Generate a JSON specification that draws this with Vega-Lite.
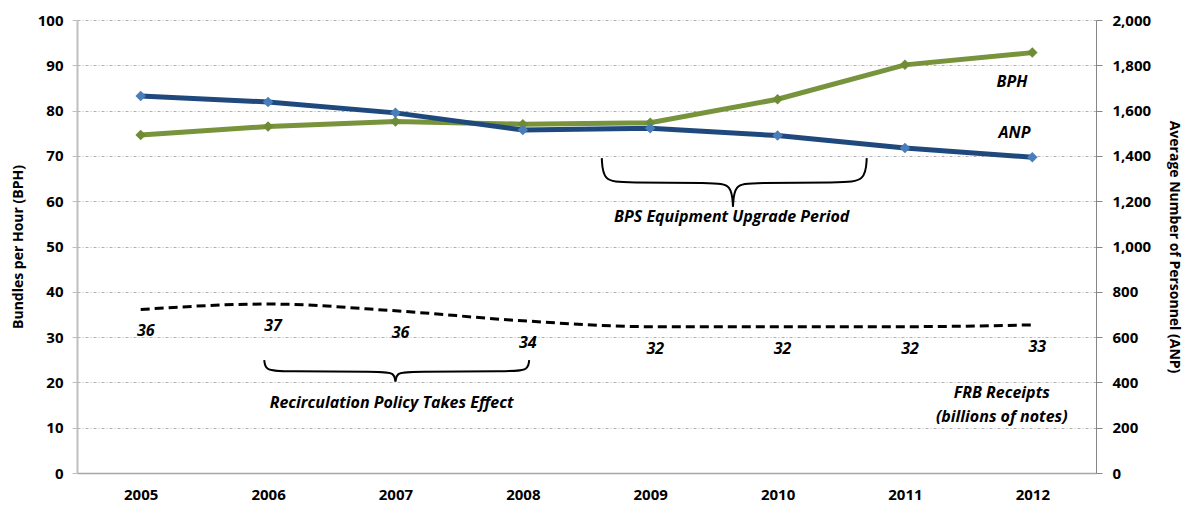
{
  "$schema": "https://vega.github.io/schema/vega-lite/v6.json",
  "width": 1019,
  "height": 453,
  "autosize": {"type": "none"},
  "padding": {"left": 77, "top": 20, "right": 101, "bottom": 35},
  "background": "white",
  "config": {
    "font": "Open Sans",
    "view": {"stroke": null},
    "axis": {"labelFont": "Open Sans", "titleFont": "Open Sans", "labelColor": "#000", "titleColor": "#000", "labelFontWeight": "bold", "titleFontWeight": "bold"}
  },
  "datasets": {
    "series": [
      {"year": 2005, "BPH": 74.6, "ANP": 1664, "FRB": 36.1},
      {"year": 2006, "BPH": 76.5, "ANP": 1638, "FRB": 37.3},
      {"year": 2007, "BPH": 77.6, "ANP": 1590, "FRB": 35.8},
      {"year": 2008, "BPH": 77.0, "ANP": 1514, "FRB": 33.6},
      {"year": 2009, "BPH": 77.3, "ANP": 1522, "FRB": 32.3},
      {"year": 2010, "BPH": 82.5, "ANP": 1490, "FRB": 32.3},
      {"year": 2011, "BPH": 90.1, "ANP": 1435, "FRB": 32.3},
      {"year": 2012, "BPH": 92.8, "ANP": 1394, "FRB": 32.7}
    ],
    "braces": [
      {"brace": "BPS-L", "i": 0, "x": 2008.62, "y": 69.5},
      {"brace": "BPS-L", "i": 1, "x": 2008.63, "y": 64.4},
      {"brace": "BPS-L", "i": 2, "x": 2008.8, "y": 64.1},
      {"brace": "BPS-L", "i": 3, "x": 2009.5, "y": 64.1},
      {"brace": "BPS-L", "i": 4, "x": 2009.64, "y": 63.7},
      {"brace": "BPS-L", "i": 5, "x": 2009.65, "y": 58.8},
      {"brace": "BPS-R", "i": 0, "x": 2009.65, "y": 58.8},
      {"brace": "BPS-R", "i": 1, "x": 2009.66, "y": 63.7},
      {"brace": "BPS-R", "i": 2, "x": 2009.8, "y": 64.1},
      {"brace": "BPS-R", "i": 3, "x": 2010.5, "y": 64.1},
      {"brace": "BPS-R", "i": 4, "x": 2010.69, "y": 64.4},
      {"brace": "BPS-R", "i": 5, "x": 2010.7, "y": 69.5},
      {"brace": "REC-L", "i": 0, "x": 2005.97, "y": 24.9},
      {"brace": "REC-L", "i": 1, "x": 2005.98, "y": 22.7},
      {"brace": "REC-L", "i": 2, "x": 2006.1, "y": 22.4},
      {"brace": "REC-L", "i": 3, "x": 2006.9, "y": 22.4},
      {"brace": "REC-L", "i": 4, "x": 2006.99, "y": 22.1},
      {"brace": "REC-L", "i": 5, "x": 2007.0, "y": 20.2},
      {"brace": "REC-R", "i": 0, "x": 2007.0, "y": 20.2},
      {"brace": "REC-R", "i": 1, "x": 2007.01, "y": 22.1},
      {"brace": "REC-R", "i": 2, "x": 2007.1, "y": 22.4},
      {"brace": "REC-R", "i": 3, "x": 2007.92, "y": 22.4},
      {"brace": "REC-R", "i": 4, "x": 2008.04, "y": 22.7},
      {"brace": "REC-R", "i": 5, "x": 2008.05, "y": 24.9}
    ],
    "notes": [
      {"text": "BPH", "x": 2011.84, "y": 86.4},
      {"text": "ANP", "x": 2011.86, "y": 75.1},
      {"text": "BPS Equipment Upgrade Period", "x": 2009.64, "y": 56.5},
      {"text": "Recirculation Policy Takes Effect", "x": 2006.97, "y": 15.4},
      {"text": "FRB Receipts", "x": 2011.76, "y": 17.7},
      {"text": "(billions of notes)", "x": 2011.76, "y": 12.4}
    ]
  },
  "layer": [
    {
      "layer": [
        {
          "data": {"name": "series"},
          "mark": {"type": "line", "color": "#77933C", "strokeWidth": 5},
          "encoding": {
            "x": {"field": "year", "type": "quantitative", "scale": {"domain": [2004.5, 2012.5], "nice": false, "zero": false},
              "axis": {"values": [2005, 2006, 2007, 2008, 2009, 2010, 2011, 2012], "format": "d", "title": null, "grid": false, "ticks": false, "domainColor": "#A6A6A6", "domainWidth": 1.5, "labelFontSize": 15, "labelPadding": 14}},
            "y": {"field": "BPH", "type": "quantitative", "scale": {"domain": [0, 100], "nice": false},
              "axis": {"title": "Bundles per Hour (BPH)", "values": [0, 10, 20, 30, 40, 50, 60, 70, 80, 90, 100], "grid": true, "gridColor": "#B0B0B0", "gridDash": [3, 2, 1, 2], "gridWidth": 1, "domainColor": "#BFBFBF", "domainWidth": 2, "tickColor": "#BFBFBF", "tickSize": 5, "labelFontSize": 15, "labelPadding": 9, "titleFontSize": 14, "titlePadding": 12}}
          }
        },
        {
          "data": {"name": "series"},
          "mark": {"type": "point", "shape": "diamond", "filled": true, "color": "#6E8B35", "size": 110, "opacity": 1},
          "encoding": {
            "x": {"field": "year", "type": "quantitative"},
            "y": {"field": "BPH", "type": "quantitative"}
          }
        },
        {
          "data": {"name": "series"},
          "mark": {"type": "line", "color": "#000", "strokeWidth": 3, "strokeDash": [9, 5], "interpolate": "monotone"},
          "encoding": {
            "x": {"field": "year", "type": "quantitative"},
            "y": {"field": "FRB", "type": "quantitative"}
          }
        },
        {
          "data": {"name": "series"},
          "mark": {"type": "text", "fontStyle": "italic", "fontWeight": "bold", "fontSize": 16, "dy": 22, "dx": 5, "color": "#000"},
          "encoding": {
            "x": {"field": "year", "type": "quantitative"},
            "y": {"field": "FRB", "type": "quantitative"},
            "text": {"field": "FRB", "type": "quantitative", "format": ".0f"}
          }
        },
        {
          "data": {"name": "braces"},
          "mark": {"type": "line", "color": "#000", "strokeWidth": 2, "interpolate": "basis"},
          "encoding": {
            "x": {"field": "x", "type": "quantitative"},
            "y": {"field": "y", "type": "quantitative"},
            "detail": {"field": "brace"},
            "order": {"field": "i", "type": "quantitative"}
          }
        },
        {
          "data": {"name": "notes"},
          "mark": {"type": "text", "fontStyle": "italic", "fontWeight": "bold", "fontSize": 16, "color": "#000", "baseline": "middle", "align": "center"},
          "encoding": {
            "x": {"field": "x", "type": "quantitative"},
            "y": {"field": "y", "type": "quantitative"},
            "text": {"field": "text"}
          }
        }
      ]
    },
    {
      "layer": [
        {
          "data": {"name": "series"},
          "mark": {"type": "line", "color": "#1F497D", "strokeWidth": 5},
          "encoding": {
            "x": {"field": "year", "type": "quantitative"},
            "y": {"field": "ANP", "type": "quantitative", "scale": {"domain": [0, 2000], "nice": false},
              "axis": {"orient": "right", "title": "Average Number of Personnel (ANP)", "values": [0, 200, 400, 600, 800, 1000, 1200, 1400, 1600, 1800, 2000], "format": ",d", "grid": false, "domainColor": "#868686", "domainWidth": 1, "tickColor": "#868686", "tickSize": 6, "labelFontSize": 15, "labelPadding": 10, "titleFontSize": 14, "titlePadding": 16}}
          }
        },
        {
          "data": {"name": "series"},
          "mark": {"type": "point", "shape": "diamond", "filled": true, "color": "#4A7EBB", "size": 110, "opacity": 1},
          "encoding": {
            "x": {"field": "year", "type": "quantitative"},
            "y": {"field": "ANP", "type": "quantitative"}
          }
        }
      ]
    }
  ],
  "resolve": {"scale": {"y": "independent"}}
}
